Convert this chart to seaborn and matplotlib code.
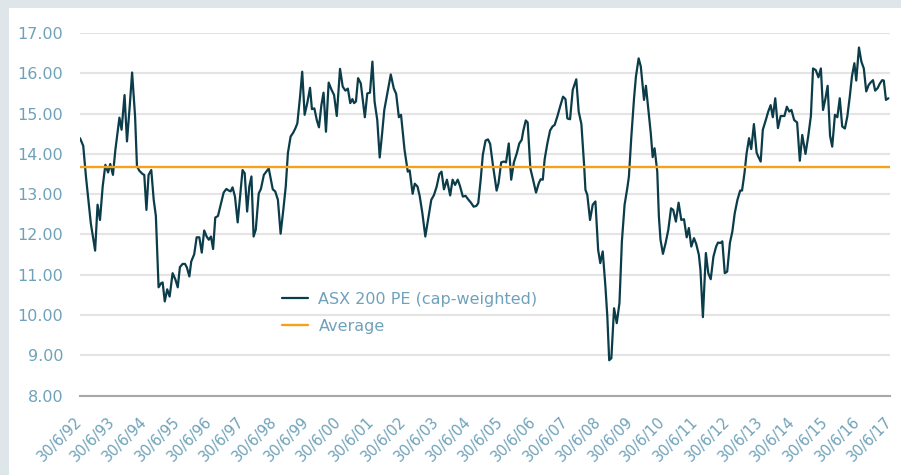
import numpy as np
import pandas as pd
import matplotlib
matplotlib.use('Agg')
import matplotlib.pyplot as plt
import seaborn as sns
from matplotlib.patches import Rectangle

# ASX 200 PE readings, time given as months after 30/6/1992
months_after_jun92 = [
    0.0, 1.2, 2.2, 4.0, 5.6, 6.5, 7.4, 8.4, 9.4, 10.4, 11.2, 12.2, 13.1, 14.6, 15.4,
    16.5, 17.4, 18.4, 19.3, 20.4, 21.1, 22.0, 23.2, 23.8, 24.6, 25.4, 26.4, 27.3, 28.1,
    29.1, 30.0, 30.6, 31.4, 32.3, 33.2, 34.3, 35.3, 36.2, 37.0, 38.0, 38.9, 39.6, 40.5,
    41.2, 42.3, 43.2, 44.2, 45.1, 46.0, 46.9, 47.7, 48.5, 49.3, 50.1, 51.1, 52.3, 53.2,
    54.2, 55.1, 55.8, 56.5, 57.4, 58.4, 59.3, 60.2,
    61.0, 61.9, 62.7, 63.5, 64.3, 65.1, 66.2, 67.0, 68.1, 69.0, 69.9, 71.4, 72.3, 73.3,
    74.3, 75.3, 76.2, 77.0, 78.0, 79.0, 79.8, 80.5, 81.5, 82.3, 83.2, 84.2, 85.2, 85.9,
    86.8, 87.7, 88.5, 89.4, 90.2, 91.1, 92.1, 93.1, 94.1, 95.1, 96.3, 97.3, 98.3, 99.2,
    100.1, 100.9, 101.5, 102.2, 103.0, 104.0, 105.5, 106.4, 107.4, 108.3, 109.1, 110.1,
    111.0, 111.9, 112.7, 113.8, 115.1, 116.2, 117.1, 118.1, 118.9, 120.2, 121.4, 122.1,
    123.2, 124.0, 125.0, 125.8, 126.8, 127.9, 128.9, 130.1, 131.1, 132.1, 133.1, 133.9,
    134.8, 135.9, 137.1, 138.0, 138.9, 139.9, 140.7, 141.8, 142.8, 143.9, 144.9, 145.8,
    146.8, 147.5, 148.4, 149.2, 150.2, 151.1, 151.9, 153.0, 154.3, 155.0, 156.0, 157.0,
    157.8, 158.8, 159.7, 160.7, 161.8, 162.7, 163.6, 164.2, 165.1, 165.8, 166.8, 167.8,
    168.9, 169.9, 170.6, 171.4, 172.1, 173.1, 174.1, 175.0, 175.8, 176.8, 177.8, 178.9,
    179.8, 180.5, 181.5, 182.5, 183.8,
    184.7, 185.7, 186.7, 187.2, 187.9, 188.9, 189.9, 190.9, 191.9, 192.7, 193.6, 194.6,
    195.3, 196.0, 196.8, 197.8, 198.8, 199.8, 200.7, 201.7, 202.7, 203.3, 204.2, 205.2,
    205.9, 206.9, 207.7, 208.9, 209.6, 210.4, 211.4, 212.1, 212.8, 213.8, 214.4, 215.0,
    215.9, 216.9, 217.9, 218.9, 219.7, 220.7, 221.7, 222.7, 223.7, 224.7, 225.5, 226.4,
    227.4, 228.2, 229.2, 229.8, 230.7, 231.8, 232.7, 233.6, 234.6, 235.6, 236.3, 237.2,
    237.9, 238.8, 239.7, 240.7, 241.6, 242.5, 243.5, 244.5,
    245.2, 246.1, 246.9, 247.8, 248.6, 249.6, 250.6, 251.3, 252.1, 252.9, 254.0, 254.9,
    255.8, 256.6, 257.5, 258.5, 259.5, 260.4, 260.9, 261.8, 262.7, 263.5, 264.5, 265.6,
    266.6, 267.5, 268.7, 269.7, 270.7, 271.5, 272.5, 273.5, 274.4, 275.2, 276.1, 276.9,
    277.8, 278.6, 279.6, 280.5, 281.4, 282.3, 283.3, 284.2, 285.1, 285.9, 286.8, 287.5,
    288.5, 289.4, 290.3, 291.2, 292.1, 292.8, 293.7, 294.5, 295.4, 296.2, 297.1, 297.7,
    298.5, 299.4,
]

pe_ratio = [
    14.39, 14.20, 13.44, 12.28, 11.60, 12.74, 12.36, 13.19, 13.73, 13.54, 13.75, 13.48, 14.10, 14.90, 14.60,
    15.46, 14.31, 15.17, 16.02, 14.93, 13.69, 13.58, 13.50, 13.48, 12.61, 13.48, 13.60, 12.86, 12.46,
    10.69, 10.79, 10.81, 10.34, 10.64, 10.46, 11.04, 10.89, 10.69, 11.19, 11.27, 11.27, 11.18, 10.96,
    11.33, 11.51, 11.93, 11.93, 11.55, 12.10, 11.95, 11.87, 11.95, 11.64, 12.42, 12.46, 12.79, 13.04,
    13.13, 13.09, 13.07, 13.17, 12.94, 12.30, 12.94, 13.60,
    13.52, 12.57, 13.19, 13.44, 11.95, 12.12, 13.02, 13.13, 13.48, 13.56, 13.64, 13.12, 13.07, 12.86,
    12.02, 12.61, 13.19, 14.02, 14.43, 14.53, 14.64, 14.76, 15.42, 16.04, 14.97, 15.27, 15.64, 15.11,
    15.13, 14.84, 14.66, 15.21, 15.52, 14.55, 15.77, 15.60, 15.46, 14.94, 16.11, 15.67, 15.57, 15.62,
    15.26, 15.36, 15.26, 15.30, 15.88, 15.75, 14.91, 15.50, 15.52, 16.29, 15.30, 14.84,
    13.91, 14.51, 15.09, 15.50, 15.97, 15.63, 15.49, 14.91, 14.97, 14.10, 13.56, 13.59,
    13.01, 13.26, 13.19, 12.96, 12.53, 11.95, 12.36, 12.86, 12.98, 13.19, 13.50, 13.56,
    13.12, 13.36, 12.97, 13.36, 13.23, 13.36, 13.21, 12.94, 12.96, 12.86, 12.78, 12.69,
    12.71, 12.78, 13.36, 13.98, 14.33, 14.36, 14.25, 13.69, 13.09, 13.27, 13.79, 13.81,
    13.79, 14.26, 13.36, 13.79, 14.02, 14.26, 14.35, 14.58, 14.83, 14.78, 13.64, 13.36,
    13.04, 13.27, 13.37, 13.36, 13.87, 14.26, 14.58, 14.68, 14.72, 14.93, 15.17, 15.42,
    15.36, 14.88, 14.86, 15.59, 15.85,
    15.05, 14.74, 13.73, 13.11, 12.98, 12.36, 12.74, 12.82, 11.62, 11.29, 11.58, 10.71,
    9.97, 8.88, 8.93, 10.17, 9.80, 10.30, 11.83, 12.74, 13.15, 13.44, 14.43, 15.38,
    15.92, 16.37, 16.17, 15.34, 15.69, 15.17, 14.51, 13.92, 14.14, 13.56, 12.45, 11.87,
    11.52, 11.79, 12.12, 12.65, 12.61, 12.32, 12.79, 12.36, 12.38, 11.93, 12.16, 11.70,
    11.91, 11.77, 11.50, 11.12, 9.95, 11.54, 11.04, 10.89, 11.45, 11.70, 11.80, 11.79,
    11.83, 11.04, 11.08, 11.79, 12.07, 12.53, 12.86, 13.09,
    13.09, 13.52, 14.02, 14.39, 14.12, 14.74, 14.03, 13.92, 13.81, 14.60, 14.84, 15.05,
    15.21, 14.91, 15.38, 14.64, 14.94, 14.94, 14.94, 15.17, 15.05, 15.09, 14.84, 14.78,
    13.83, 14.47, 14.00, 14.43, 14.94, 16.12, 16.08, 15.90, 16.12, 15.09, 15.38, 15.69,
    14.45, 14.18, 14.97, 14.91, 15.38, 14.68, 14.63, 14.93, 15.42, 15.92, 16.25, 15.82,
    16.64, 16.29, 16.12, 15.55, 15.71, 15.77, 15.83, 15.57, 15.63, 15.74, 15.83, 15.82,
    15.34, 15.38,
]

average_pe = 13.68
tick_years = list(range(1992, 2018))
tick_labels = [f"30/6/{y % 100:02d}" for y in tick_years]
y_ticks = [8, 9, 10, 11, 12, 13, 14, 15, 16, 17]

df = pd.DataFrame({
    'year': 1992.5 + np.array(months_after_jun92) / 12.0,
    'pe': pe_ratio,
})

sns.set_style('white')
plt.rcParams['font.family'] = ['DejaVu Sans']

label_col = '#6fa2ba'
line_col = '#0b3c4a'
avg_col = '#f5a11c'
grid_col = '#e4e4e4'
axis_col = '#a8a8a8'

fig = plt.figure(figsize=(9.01, 4.75), dpi=100)
fig.patch.set_facecolor('#dfe6ea')
panel = Rectangle((9 / 901, 0), 1, (475 - 8) / 475, transform=fig.transFigure,
                  facecolor='white', edgecolor='none', zorder=-10)
fig.add_artist(panel)

ax = fig.add_axes([80 / 901, 79.3 / 475, 810 / 901, 362.7 / 475])
ax.set_zorder(5)
ax.set_facecolor('none')

sns.lineplot(data=df, x='year', y='pe', ax=ax, color=line_col, linewidth=1.6,
             estimator=None, sort=False, label='ASX 200 PE (cap-weighted)')
ax.axhline(average_pe, color=avg_col, linewidth=1.7, label='Average')

ax.set_xlim(1992.5, 2017.5)
ax.set_ylim(8, 17)
ax.set_yticks(y_ticks)
ax.set_yticklabels([f"{v:.2f}" for v in y_ticks])
ax.set_xticks([y + 0.5 for y in tick_years])
ax.set_xticklabels(tick_labels, rotation=45, ha='right', va='center', rotation_mode='anchor')
ax.set_xlabel('')
ax.set_ylabel('')

ax.yaxis.grid(True, color=grid_col, linewidth=1.5)
ax.xaxis.grid(False)
ax.set_axisbelow(True)
for side in ['left', 'right', 'top']:
    ax.spines[side].set_visible(False)
ax.spines['bottom'].set_color(axis_col)
ax.spines['bottom'].set_linewidth(1.5)

ax.tick_params(axis='y', length=0, pad=12, labelsize=11.5, labelcolor=label_col)
ax.tick_params(axis='x', length=5, width=1.2, color=axis_col, pad=12,
               labelsize=10.5, labelcolor=label_col)

ax.legend(loc='center left', bbox_to_anchor=(0.249, 0.229), frameon=False,
          borderpad=0, borderaxespad=0, handlelength=1.65, handletextpad=0.65,
          labelspacing=0.75, fontsize=11.5, labelcolor=label_col)

fig.savefig('out.png', dpi=100, facecolor=fig.get_facecolor())
